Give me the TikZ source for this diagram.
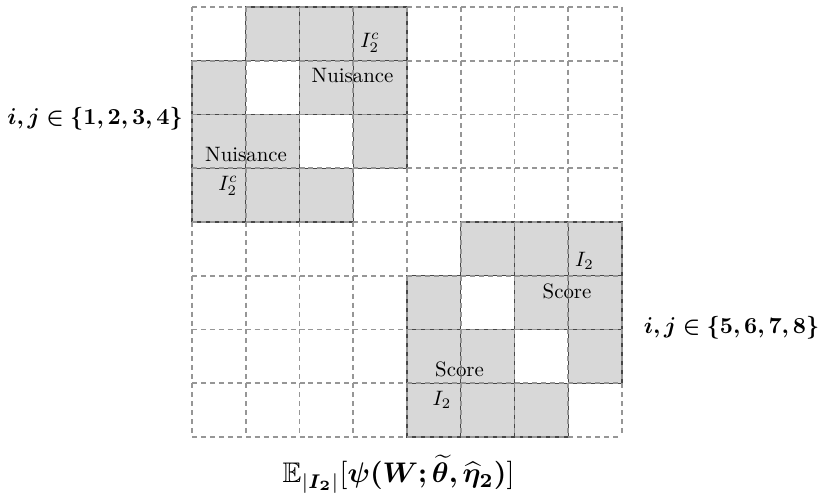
\documentclass[tikz,border=0pt]{standalone}
\usepackage{amsmath,amssymb,bm}
\definecolor{cellfill}{RGB}{216,216,216}
\definecolor{celledge}{RGB}{70,70,70}
\definecolor{gridgray}{RGB}{150,150,150}
\begin{document}
\begin{tikzpicture}[x=0.48pt,y=-0.48pt,
  gridline/.style={draw=gridgray, line width=0.9pt, dash pattern=on 2.4pt off 1.9pt},
  shaded/.style={fill=cellfill, draw=celledge, line width=0.6pt},
  lab/.style={inner sep=0pt, anchor=center},
  biglab/.style={inner sep=0pt, anchor=center, scale=1.1}]
\useasboundingbox (0,0) rectangle (820,493);
\foreach \b in {0,4} {
  \foreach \rr in {0,...,3} {
    \foreach \cc in {0,...,3} {
      \ifnum\rr=\cc\relax\else
        \draw[shaded] ({192+(\b+\cc)*53.75},{7+(\b+\rr)*53.75}) rectangle ++(53.75,53.75);
      \fi
    }
  }
}
\foreach \k in {0,...,8} {
  \foreach \m in {0,...,7} {
    \draw[gridline] ({192+\k*53.75},{7+\m*53.75}) -- ++(0,53.75);
    \draw[gridline] ({192+\m*53.75},{7+\k*53.75}) -- ++(53.75,0);
  }
}
\node[lab] (ic1) at (370,43) {$I_2^c$};
\node[lab] (nu1) at (352.5,76) {Nuisance};
\node[lab] (nu2) at (246,155) {Nuisance};
\node[lab] (ic2) at (228,186) {$I_2^c$};
\node[lab] (i2a) at (584.5,261) {$I_2$};
\node[lab] (sc1) at (567,291) {Score};
\node[lab] (sc2) at (459.5,369) {Score};
\node[lab] (i2b) at (442,400) {$I_2$};
\node[biglab] (lbl) at (95,119) {$\bm{i,j\in\{1,2,3,4\}}$};
\node[biglab] (lbr) at (731.5,328) {$\bm{i,j\in\{5,6,7,8\}}$};
\node[lab, scale=1.36] (ex) at (398.5,474) {$\mathbb{E}_{|\bm{I_2}|}[\bm{\psi(W;\widetilde{\theta},\widehat{\eta}_2)}]$};
\end{tikzpicture}
\end{document}
